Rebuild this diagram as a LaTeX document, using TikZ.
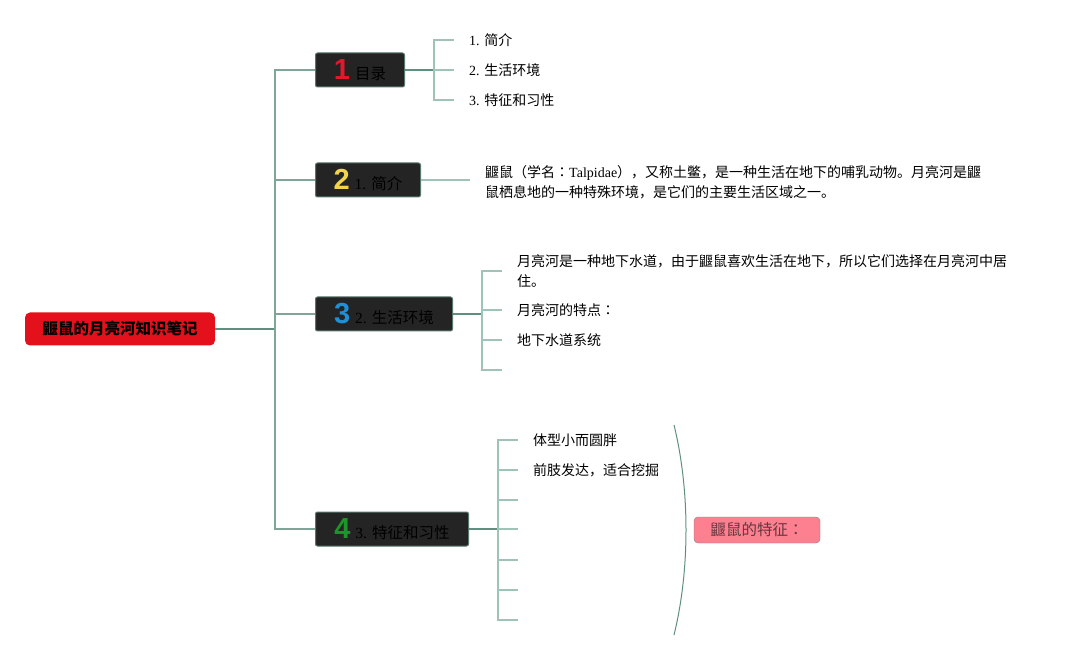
\documentclass[tikz,border=0pt]{standalone}
\usepackage{fontspec}
\setmainfont{Liberation Serif}
\newfontfamily\cjk{Noto Sans CJK SC}
\newfontfamily\cjktc{Noto Sans CJK TC}
\newfontfamily\numfont{Liberation Sans}
\usepackage{xcolor}
\usepackage{tikz}
\usetikzlibrary{positioning}

\definecolor{rootred}{RGB}{228,16,28}
\definecolor{boxdark}{RGB}{36,36,36}
\definecolor{boxedge}{RGB}{88,120,108}
\definecolor{stemdark}{RGB}{95,143,127}
\definecolor{stemlight}{RGB}{160,195,184}
\definecolor{numred}{RGB}{226,24,44}
\definecolor{numyellow}{RGB}{242,212,72}
\definecolor{numblue}{RGB}{30,144,216}
\definecolor{numgreen}{RGB}{28,150,40}
\definecolor{featpink}{RGB}{253,128,144}
\definecolor{feattext}{RGB}{100,56,64}

\newcommand{\bignum}[2]{{\numfont\bfseries\fontsize{29}{29}\selectfont\color{#1}#2}\hspace{5pt}}
\newcommand{\colonmark}{{\cjktc ：}}

\tikzset{
  rootbox/.style={fill=rootred, rounded corners=5pt, minimum width=190pt, minimum height=33pt, inner sep=0pt, font=\cjk\bfseries\fontsize{15.5}{18}\selectfont},
  topicbox/.style={fill=boxdark, draw=boxedge, line width=1pt, rounded corners=2pt, minimum height=34pt, anchor=west, inner xsep=0pt, font=\cjk\fontsize{15.5}{18}\selectfont, text=black},
  leaf/.style={anchor=west, inner xsep=15pt, inner ysep=0pt, align=left, font=\cjk\fontsize{14}{20}\selectfont},
  featbox/.style={fill=featpink, draw=gray, rounded corners=4pt, minimum width=126pt, minimum height=26pt, inner sep=0pt, text=feattext, font=\cjk\fontsize{15.5}{18}\selectfont},
  mainline/.style={draw=stemdark, line width=1.3pt},
  trunkline/.style={draw=stemdark!80, line width=1.2pt},
  subline/.style={draw=stemlight, line width=1.4pt},
}

\begin{document}
\begin{tikzpicture}[x=1pt,y=1pt,yscale=-1,xscale=1]
\useasboundingbox (0,0) rectangle (1077,660);

% root
\node[rootbox] (root) at (120,329) {鼴鼠的月亮河知识笔记};

% topics
\node[topicbox, minimum width=89pt] (t1) at (315,70) {\bignum{numred}{1}目录};
\node[topicbox, minimum width=105pt] (t2) at (315,180) {\bignum{numyellow}{2}{\rmfamily 1. }简介};
\node[topicbox, minimum width=137pt] (t3) at (315,314) {\bignum{numblue}{3}{\rmfamily 2. }生活环境};
\node[topicbox, minimum width=153pt] (t4) at (315,529) {\bignum{numgreen}{4}{\rmfamily 3. }特征和习性};

% trunk
\coordinate (hub) at (275,329);
\draw[mainline] (root.east) -- (hub);
\foreach \t in {t1,t2,t3,t4}
  \draw[trunkline] (hub) |- (\t.west);

% topic 1 : contents
\coordinate (j1) at (434,70);
\draw[mainline] (t1.east) -- (j1);
\node[leaf] (l11) at (454,40) {{\rmfamily 1. }简介};
\node[leaf] (l12) at (454,70) {{\rmfamily 2. }生活环境};
\node[leaf] (l13) at (454,100) {{\rmfamily 3. }特征和习性};
\foreach \l in {l11,l12,l13}
  \draw[subline] (j1) |- (\l.west);

% topic 2 : intro
\node[leaf] (l21) at (470,182) {鼴鼠（学名\colonmark{\rmfamily Talpidae}），又称土鳖，是一种生活在地下的哺乳动物。月亮河是鼴\\鼠栖息地的一种特殊环境，是它们的主要生活区域之一。};
\draw[subline] (t2.east) -- (t2.east -| l21.west);

% topic 3 : habitat
\coordinate (j3) at (482,314);
\draw[mainline] (t3.east) -- (j3);
\node[leaf] (l31) at (502,271) {月亮河是一种地下水道，由于鼴鼠喜欢生活在地下，所以它们选择在月亮河中居\\住。};
\node[leaf] (l32) at (502,310) {月亮河的特点\colonmark};
\node[leaf] (l33) at (502,340) {地下水道系统};
\coordinate (l34) at (502,370);
\foreach \l in {l31,l32,l33,l34}
  \draw[subline] (j3) |- (\l.west);

% topic 4 : features
\coordinate (j4) at (498,529);
\draw[mainline] (t4.east) -- (j4);
\node[leaf] (l41) at (518,440) {体型小而圆胖};
\node[leaf] (l42) at (518,470) {前肢发达，适合挖掘};
\foreach \y [count=\i from 3] in {500,529,560,590,620}
  \coordinate (l4\i) at (518,\y);
\foreach \l in {l41,l42,l43,l44,l45,l46,l47}
  \draw[subline] (j4) |- (\l.west);

% summary
\coordinate (brtop) at (674,425);
\coordinate (brbot) at (674,635);
\draw[mainline, line width=1pt] (brtop) .. controls (690,490) and (690,570) .. (brbot);
\node[featbox] (feat) at (757,530) {鼴鼠的特征\colonmark};
\end{tikzpicture}
\end{document}
